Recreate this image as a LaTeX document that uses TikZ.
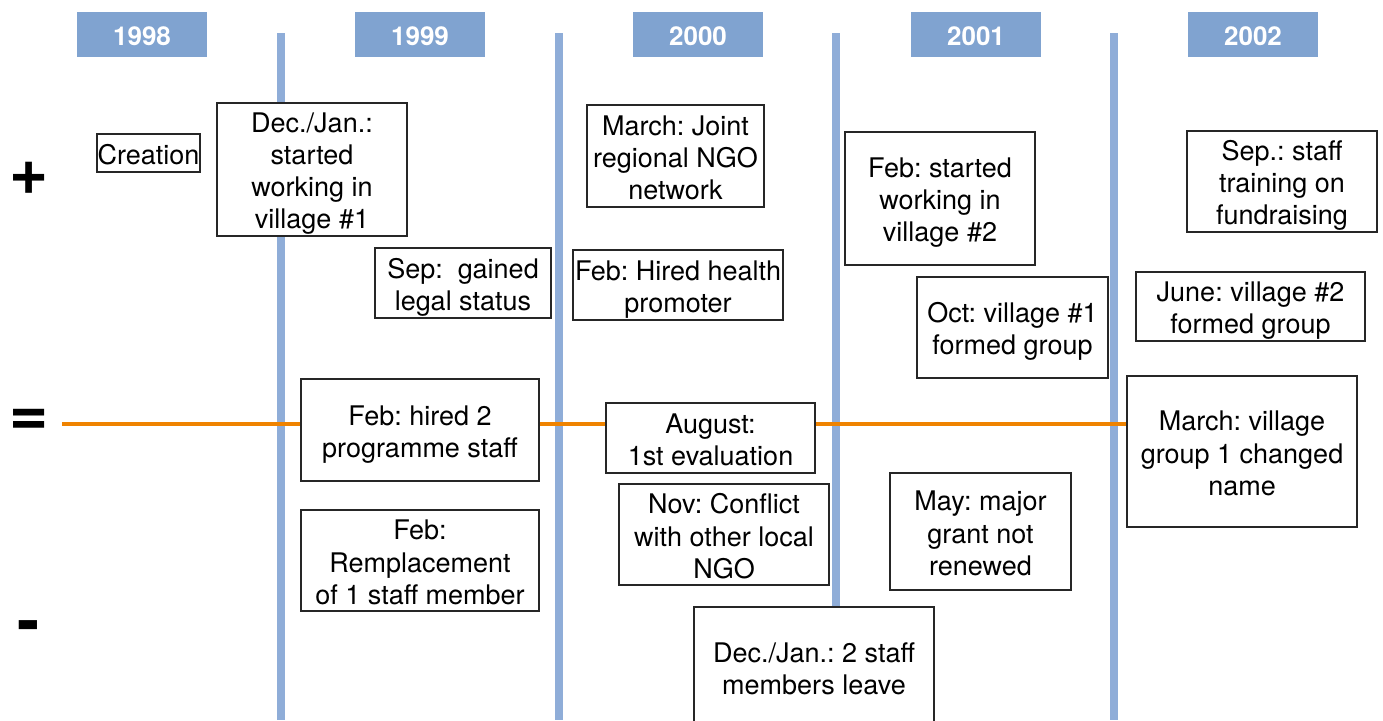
\documentclass[tikz,border=0pt]{standalone}
\usepackage{fontspec}
\setmainfont{TeX Gyre Heros}
\frenchspacing
\definecolor{yearfill}{RGB}{128,163,208}
\definecolor{yearline}{RGB}{143,173,216}
\definecolor{eqline}{RGB}{239,131,0}
% invisible struts: \evs gives every line the same height and depth,
% \evt is a taller one for the first line, which sets the text a little low
\newcommand{\evs}{\rule[-5pt]{0pt}{27.2pt}}
\newcommand{\evt}{\rule[-5pt]{0pt}{33.2pt}}
\begin{document}
\begin{tikzpicture}[x=1pt,y=-1pt,
  yearbox/.style={fill=yearfill,text=white,font=\fontsize{26}{30}\selectfont\bfseries,
    minimum width=130pt,minimum height=45pt,inner sep=0pt,text height=24pt,text depth=3pt},
  sepline/.style={draw=yearline,line width=7.5pt},
  event/.style={draw=black!85,fill=white,line width=1.3pt,align=center,inner sep=0pt,
    font=\fontsize{27}{32.2}\selectfont},
  sign/.style={font=\fontsize{67}{67}\selectfont\bfseries,inner sep=0pt}]
\useasboundingbox (0,0) rectangle (1383,720);
% year separators
\foreach \x/\n in {281/a,559/b,836/c,1114/d}{
  \coordinate (top\n) at (\x,33);
  \coordinate (bot\n) at (\x,720);
  \draw[sepline] (top\n) -- (bot\n);
}
% year headers
\node[yearbox] (y1998) at (142,34.5) {1998};
\node[yearbox] (y1999) at (420,34.5) {1999};
\node[yearbox] (y2000) at (698,34.5) {2000};
\node[yearbox] (y2001) at (976,34.5) {2001};
\node[yearbox] (y2002) at (1253,34.5) {2002};
% scale signs
\node[sign] (plus) at (29,178) {+};
\node[sign] (equal) at (29,422) {=};
\node[sign] (minus) at (29,632) {-};
% neutral line
\coordinate (eqstart) at (62,424);
\node[event,minimum width=230pt,minimum height=151pt] (march02) at (1242,451.5) {\evt March: village\\\evs group 1 changed\\\evs name};
\draw[eqline,line width=4.8pt] (eqstart) -- (eqstart -| march02.west);
% events
\node[event,minimum width=103pt,minimum height=38pt] (creation) at (148.5,153) {\evt Creation};
\node[event,minimum width=190pt,minimum height=133pt] (decjan99) at (312,169.5) {\evt Dec./Jan.:\\\evs started\\\evs working in\\\evs village \#1};
\node[event,minimum width=176pt,minimum height=70pt] (sep99) at (463,283) {\evt Sep:\ \ gained\\\evs legal status};
\node[event,minimum width=177pt,minimum height=102pt] (march00) at (675.5,156) {\evt March: Joint\\\evs regional NGO\\\evs network};
\node[event,minimum width=210pt,minimum height=70pt] (feb00) at (678,285) {\evt Feb: Hired health\\\evs promoter};
\node[event,minimum width=190pt,minimum height=133pt] (feb01) at (940,198.5) {\evt Feb: started\\\evs working in\\\evs village \#2};
\node[event,minimum width=191pt,minimum height=101pt] (oct01) at (1012.5,327.5) {\evt Oct: village \#1\\\evs formed group};
\node[event,minimum width=190pt,minimum height=101pt] (sep02) at (1282,181.5) {\evt Sep.: staff\\\evs training on\\\evs fundraising};
\node[event,minimum width=229pt,minimum height=69pt] (june02) at (1250.5,306.5) {\evt June: village \#2\\\evs formed group};
\node[event,minimum width=238pt,minimum height=102pt] (feb99a) at (420,430) {\evt Feb: hired 2\\\evs programme staff};
\node[event,minimum width=238pt,minimum height=101pt] (feb99b) at (420,560.5) {\evt Feb:\\\evs Remplacement\\\evs of 1 staff member};
\node[event,minimum width=209pt,minimum height=70pt] (aug00) at (710.5,438) {\evt August:\\\evs 1st evaluation};
\node[event,minimum width=210pt,minimum height=101pt] (nov00) at (724,534.5) {\evt Nov: Conflict\\\evs with other local\\\evs NGO};
\node[event,minimum width=181pt,minimum height=117pt] (may01) at (980.5,531.5) {\evt May: major\\\evs grant not\\\evs renewed};
\node[event,minimum width=240pt,minimum height=120pt] (decjan00) at (814,667) {\evt Dec./Jan.: 2 staff\\\evs members leave};
\end{tikzpicture}
\end{document}
